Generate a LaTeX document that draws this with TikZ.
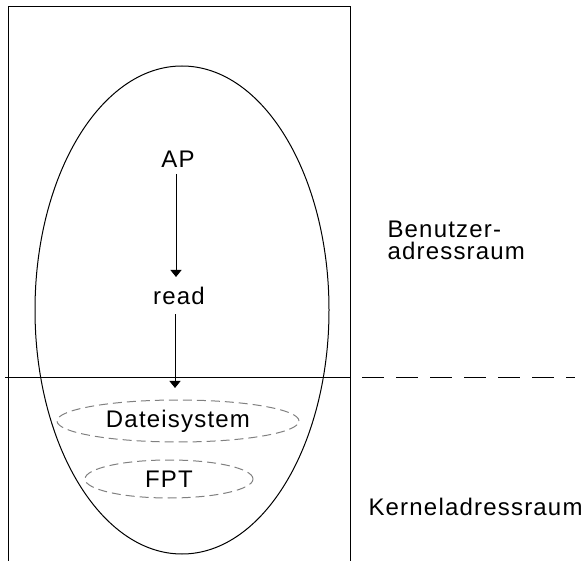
\documentclass[tikz,border=0pt]{standalone}
\usepackage{fontspec}
\setmainfont{Liberation Sans}[LetterSpace=5]
\usetikzlibrary{arrows.meta,shapes.geometric}
\tikzset{
	lbl/.style = {inner sep = 0pt, font = \fontsize{24}{22}\selectfont},
	fsring/.style = {ellipse, draw = gray, dashed, dash pattern = on 9pt off 5pt, line width = 1pt, inner sep = 0pt, font = \fontsize{24}{22}\selectfont},
	call/.style = {-{Triangle[length = 7pt, width = 11pt]}, line width = 1pt}
}
\begin{document}
\begin{tikzpicture} [x = 1pt, y = -1pt, line width = 1pt]
	\useasboundingbox (0,0) rectangle (584,561);
	\draw (8,561) -- (8,7) -- (350,7) -- (350,561);
	\draw (182,310) ellipse (147 and 244);
	\draw (5,378) -- (350,378);
	\draw [dash pattern = on 22pt off 12pt] (362,378) -- (575,378);
	\node [lbl] (ap) at (178,159) {AP};
	\node [lbl] (read) at (179,296) {read};
	\node [fsring, minimum width = 242pt, minimum height = 42pt] (fs) at (178,421) {Dateisystem};
	\node [fsring, minimum width = 168pt, minimum height = 38pt] (fpt) at (169,479) {FPT};
	\draw [call] (ap.south -| 176,0) ++(0,6) -- (176,277);
	\draw [call] (read.south -| 175,0) ++(0,9) -- (175,388);
	\node [lbl, anchor = west, align = left] (user) at (387,240) {Benutzer-\\adressraum};
	\node [lbl, anchor = west] (kernel) at (368,507) {Kerneladressraum};
\end{tikzpicture}
\end{document}
